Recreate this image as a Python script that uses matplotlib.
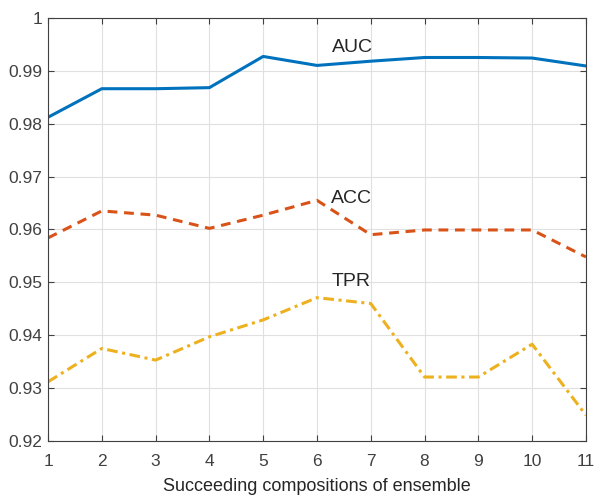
import matplotlib
matplotlib.use("Agg")
import matplotlib.pyplot as plt

plt.rcParams['font.family'] = ['Liberation Sans', 'DejaVu Sans']

x = [1, 2, 3, 4, 5, 6, 7, 8, 9, 10, 11]
auc = [0.9812, 0.9866, 0.9866, 0.9868, 0.9927, 0.9910, 0.9918, 0.9925, 0.9925, 0.9924, 0.9909]
acc = [0.9584, 0.9635, 0.9627, 0.9602, 0.9627, 0.9655, 0.9590, 0.9599, 0.9599, 0.9599, 0.9548]
tpr = [0.9312, 0.9375, 0.9353, 0.9397, 0.9429, 0.9471, 0.9460, 0.9321, 0.9321, 0.9383, 0.9249]
xticks = [1, 2, 3, 4, 5, 6, 7, 8, 9, 10, 11]
yticks = [0.92, 0.93, 0.94, 0.95, 0.96, 0.97, 0.98, 0.99, 1.0]
yticklabels = ['0.92', '0.93', '0.94', '0.95', '0.96', '0.97', '0.98', '0.99', '1']

fig = plt.figure(figsize=(5.95, 4.95), dpi=100)
ax = fig.add_axes([0.0807, 0.109, 0.904, 0.855])

ax.plot(x, auc, color='#0072BD', lw=2.2, linestyle='-')
ax.plot(x, acc, color='#D95319', lw=2.2, linestyle=(0, (3.2, 2.2)))
ax.plot(x, tpr, color='#EDB120', lw=2.2, linestyle=(0, (3.5, 1.5, 1, 1.5)))

txtc = '#262626'
ax.text(6.28, 0.9944, 'AUC', fontsize=14, color=txtc, ha='left', va='center')
ax.text(6.26, 0.9658, 'ACC', fontsize=14, color=txtc, ha='left', va='center')
ax.text(6.28, 0.9502, 'TPR', fontsize=14, color=txtc, ha='left', va='center')

ax.set_xlim(1, 11)
ax.set_ylim(0.92, 1.0)
ax.set_xticks(xticks)
ax.set_yticks(yticks)
ax.set_yticklabels(yticklabels)
ax.grid(True, color='#e0e0e0', lw=0.8)
ax.set_axisbelow(True)
ax.tick_params(direction='in', length=4, top=True, right=True, labelsize=12.5,
               colors='#404040', labelcolor='#404040', width=0.8)
ax.tick_params(axis='x', pad=9)
ax.tick_params(axis='y', pad=4)
for s in ax.spines.values():
    s.set_color('#404040')
    s.set_linewidth(0.8)
ax.set_xlabel('Succeeding compositions of ensemble', fontsize=13, color=txtc, labelpad=7)

fig.savefig('out.png', dpi=100, facecolor='white')
